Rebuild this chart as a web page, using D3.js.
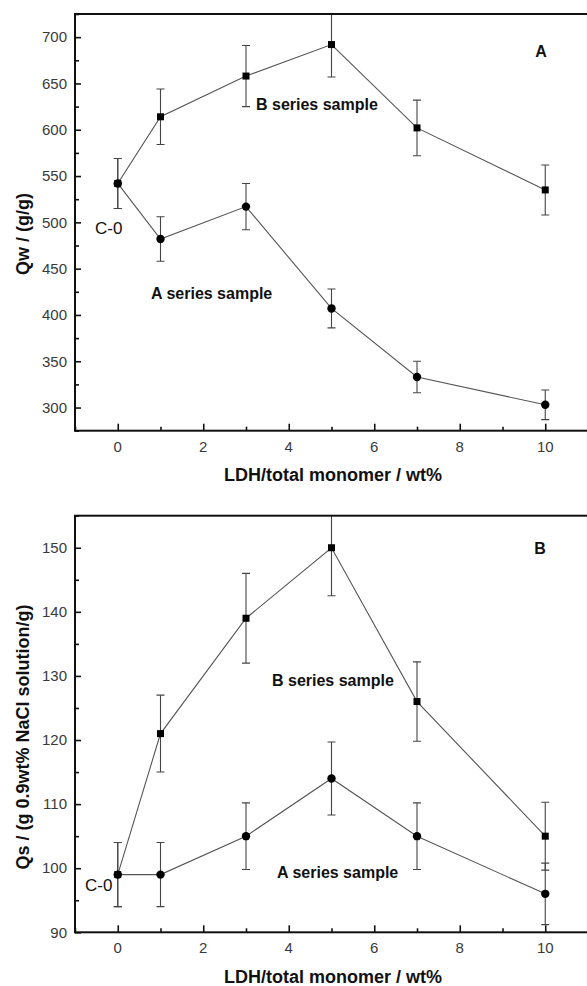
<!DOCTYPE html>
<html>
<head>
<meta charset="utf-8">
<script src="https://cdn.jsdelivr.net/npm/d3@7"></script>
<style>
    body { margin: 0; background: #fff; }
    svg { display: block; }
    text { font-family: "Liberation Sans", Arial, sans-serif; }
    .tickLabel { font-size: 15px; fill: #3a3a3a; }
    .axisTitle { font-size: 18px; font-weight: bold; fill: #111; }
    .seriesLabel { font-size: 16px; font-weight: bold; fill: #111; }
</style>
</head>
<body>
<div id="chart"></div>
<script>
// x values (LDH/total monomer, wt%)
var loadings = [0, 1, 3, 5, 7, 10];

// panel A: water absorbency Qw (g/g)
var qwSeriesB = [542, 614, 658, 692, 602, 535];
var qwSeriesBErr = [27, 30, 33, 35, 30, 27];
var qwSeriesA = [542, 482, 517, 407, 333, 303];
var qwSeriesAErr = [27, 24, 25, 21, 17, 16];

// panel B: saline absorbency Qs (g 0.9wt% NaCl solution/g)
var qsSeriesB = [99, 121, 139, 150, 126, 105];
var qsSeriesBErr = [5, 6, 7, 7.5, 6.2, 5.3];
var qsSeriesA = [99, 99, 105, 114, 105, 96];
var qsSeriesAErr = [5, 5, 5.2, 5.7, 5.2, 4.8];

var xTicks = [0, 2, 4, 6, 8, 10];
var xMinorTicks = [-1, 1, 3, 5, 7, 9, 11];
var qwTicks = [300, 350, 400, 450, 500, 550, 600, 650, 700];
var qwMinorTicks = [275, 325, 375, 425, 475, 525, 575, 625, 675, 725];
var qsTicks = [90, 100, 110, 120, 130, 140, 150];
var qsMinorTicks = [95, 105, 115, 125, 135, 145, 155];

var width = 587, height = 986;

var svg = d3.select("#chart").append("svg")
    .attr("width", width)
    .attr("height", height);

function drawPanel(opt){
    var x = d3.scaleLinear().domain([-1, 11]).range([75, 588]);
    var y = d3.scaleLinear().domain(opt.yDomain).range([opt.bottom, opt.top]);

    var g = svg.append("g");

    //clip so error bars stop at the frame
    g.append("clipPath").attr("id", opt.id + "clip")
        .append("rect")
        .attr("x", x.range()[0]).attr("y", opt.top)
        .attr("width", x.range()[1] - x.range()[0])
        .attr("height", opt.bottom - opt.top);

    var plot = g.append("g").attr("clip-path", "url(#" + opt.id + "clip)");

    var series = [
        {values: opt.seriesB, err: opt.seriesBErr, shape: "square"},
        {values: opt.seriesA, err: opt.seriesAErr, shape: "circle"}
    ];

    series.forEach(function(s){
        var pts = loadings.map(function(d, i){
            return {x: d, y: s.values[i], e: s.err[i]};
        });

        plot.append("path")
            .datum(pts)
            .attr("fill", "none")
            .attr("stroke", "#555")
            .attr("stroke-width", 1.1)
            .attr("d", d3.line()
                .x(function(d){ return x(d.x); })
                .y(function(d){ return y(d.y); }));

        var bars = plot.append("g").selectAll("g")
            .data(pts).enter().append("g")
            .attr("stroke", "#444")
            .attr("stroke-width", 1.1);

        bars.append("line")
            .attr("x1", function(d){ return x(d.x); })
            .attr("x2", function(d){ return x(d.x); })
            .attr("y1", function(d){ return y(d.y - d.e); })
            .attr("y2", function(d){ return y(d.y + d.e); });
        bars.append("line")
            .attr("x1", function(d){ return x(d.x) - 4; })
            .attr("x2", function(d){ return x(d.x) + 4; })
            .attr("y1", function(d){ return y(d.y + d.e); })
            .attr("y2", function(d){ return y(d.y + d.e); });
        bars.append("line")
            .attr("x1", function(d){ return x(d.x) - 4; })
            .attr("x2", function(d){ return x(d.x) + 4; })
            .attr("y1", function(d){ return y(d.y - d.e); })
            .attr("y2", function(d){ return y(d.y - d.e); });

        if (s.shape == "square"){
            plot.append("g").selectAll("rect")
                .data(pts).enter().append("rect")
                .attr("x", function(d){ return x(d.x) - 3.5; })
                .attr("y", function(d){ return y(d.y) - 3.5; })
                .attr("width", 7)
                .attr("height", 7)
                .attr("fill", "#000");
        }
        else{
            plot.append("g").selectAll("circle")
                .data(pts).enter().append("circle")
                .attr("cx", function(d){ return x(d.x); })
                .attr("cy", function(d){ return y(d.y); })
                .attr("r", 4.2)
                .attr("fill", "#000");
        }
    });

    //frame (right side falls just outside the picture)
    g.append("rect")
        .attr("x", x.range()[0]).attr("y", opt.top)
        .attr("width", x.range()[1] - x.range()[0] + 3)
        .attr("height", opt.bottom - opt.top)
        .attr("fill", "none")
        .attr("stroke", "#111")
        .attr("stroke-width", 2);

    //ticks pointing inward
    var xAxis = d3.axisTop(x).tickValues(xTicks).tickSize(7).tickFormat("");
    g.append("g").attr("transform", "translate(0," + opt.bottom + ")").call(xAxis);
    var xAxisMinor = d3.axisTop(x).tickValues(xMinorTicks).tickSize(4).tickFormat("");
    g.append("g").attr("transform", "translate(0," + opt.bottom + ")").call(xAxisMinor);

    var yAxis = d3.axisRight(y).tickValues(opt.yTicks).tickSize(6).tickFormat("");
    g.append("g").attr("transform", "translate(" + x.range()[0] + ",0)").call(yAxis);
    var yAxisMinor = d3.axisRight(y).tickValues(opt.yMinorTicks).tickSize(4).tickFormat("");
    g.append("g").attr("transform", "translate(" + x.range()[0] + ",0)").call(yAxisMinor);

    g.selectAll(".domain").remove();
    g.selectAll(".tick line").attr("stroke", "#111").attr("stroke-width", 1.6);

    //tick labels
    g.append("g").selectAll("text")
        .data(xTicks).enter().append("text")
        .attr("class", "tickLabel")
        .attr("x", function(d){ return x(d); })
        .attr("y", opt.bottom + 21)
        .attr("text-anchor", "middle")
        .text(function(d){ return d; });

    g.append("g").selectAll("text")
        .data(opt.yTicks).enter().append("text")
        .attr("class", "tickLabel")
        .attr("x", 67)
        .attr("y", function(d){ return y(d); })
        .attr("dy", "0.35em")
        .attr("text-anchor", "end")
        .text(function(d){ return d; });

    //axis titles
    g.append("text")
        .attr("class", "axisTitle")
        .attr("x", 333)
        .attr("y", opt.bottom + 44)
        .attr("dy", "0.35em")
        .attr("text-anchor", "middle")
        .text("LDH/total monomer / wt%");

    g.append("text")
        .attr("class", "axisTitle")
        .attr("transform", "translate(23," + opt.yTitleY + ") rotate(-90)")
        .attr("dy", "0.35em")
        .attr("text-anchor", "middle")
        .text(opt.yTitle);

    //annotations
    opt.labels.forEach(function(l){
        g.append("text")
            .attr("class", l.bold ? "seriesLabel" : "tickLabel")
            .style("font-size", l.size + "px")
            .style("fill", "#111")
            .attr("x", l.x)
            .attr("y", l.y)
            .attr("dy", "0.35em")
            .attr("text-anchor", l.anchor || "start")
            .text(l.text);
    });
}

drawPanel({
    id: "qw",
    top: 14, bottom: 430.7,
    yDomain: [275, 725],
    yTicks: qwTicks, yMinorTicks: qwMinorTicks,
    seriesB: qwSeriesB, seriesBErr: qwSeriesBErr,
    seriesA: qwSeriesA, seriesAErr: qwSeriesAErr,
    yTitle: "Qw / (g/g)", yTitleY: 234,
    labels: [
        {text: "A", x: 541, y: 51, bold: true, size: 16, anchor: "middle"},
        {text: "B series sample", x: 256, y: 104, bold: true, size: 16},
        {text: "A series sample", x: 151, y: 293, bold: true, size: 16},
        {text: "C-0", x: 95, y: 228, bold: false, size: 17}
    ]
});

drawPanel({
    id: "qs",
    top: 515.7, bottom: 932.3,
    yDomain: [90, 155],
    yTicks: qsTicks, yMinorTicks: qsMinorTicks,
    seriesB: qsSeriesB, seriesBErr: qsSeriesBErr,
    seriesA: qsSeriesA, seriesAErr: qsSeriesAErr,
    yTitle: "Qs / (g 0.9wt% NaCl solution/g)", yTitleY: 737,
    labels: [
        {text: "B", x: 540, y: 548, bold: true, size: 16, anchor: "middle"},
        {text: "B series sample", x: 272, y: 680, bold: true, size: 16},
        {text: "A series sample", x: 277, y: 872, bold: true, size: 16},
        {text: "C-0", x: 85, y: 885, bold: false, size: 17}
    ]
});
</script>
</body>
</html>
